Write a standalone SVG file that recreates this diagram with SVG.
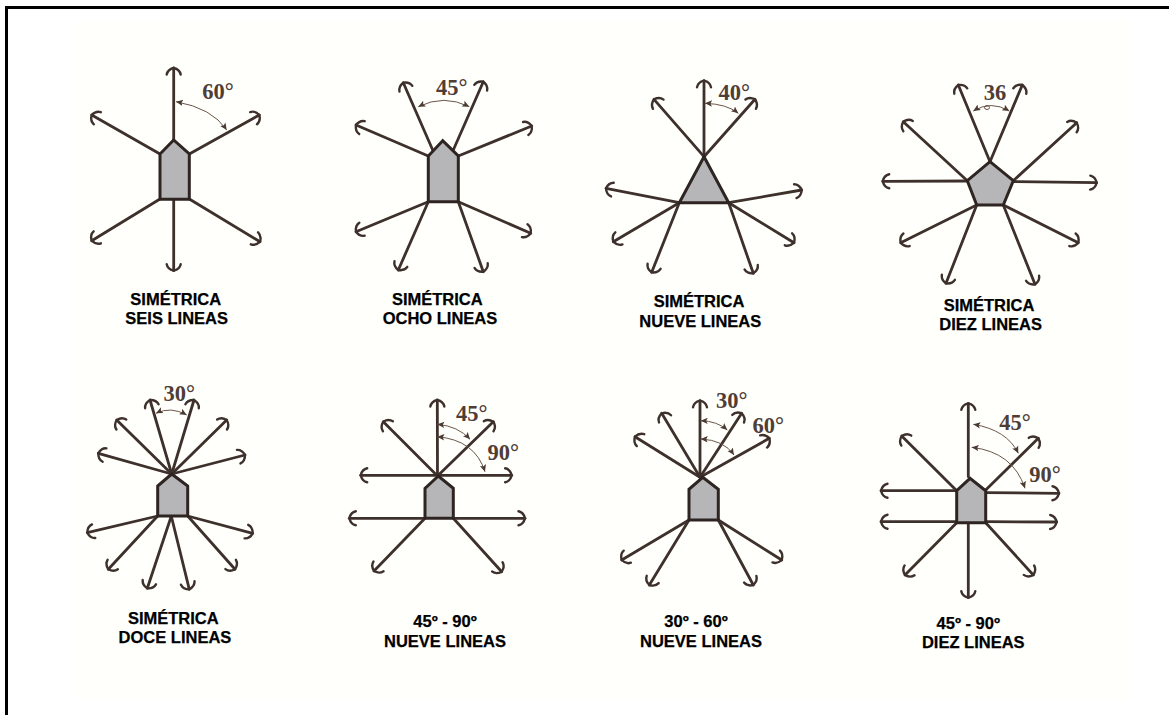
<svg xmlns="http://www.w3.org/2000/svg" width="1169" height="715" viewBox="0 0 1169 715">
<style>
.a{stroke:#3e302b;stroke-width:2.8;fill:none;marker-end:url(#h);stroke-linecap:round}
.s{fill:#b6b6b8;stroke:#2e2522;stroke-width:3;stroke-linejoin:miter}
.c{stroke:#6b5548;stroke-width:1;fill:none;marker-start:url(#t);marker-end:url(#t)}
.d{font-family:"Liberation Serif","Times New Roman",serif;font-weight:bold;font-size:22.5px;fill:#4f3d36;text-anchor:middle}
.l{font-family:"Liberation Sans",Arial,sans-serif;font-weight:bold;font-size:16.5px;fill:#000;stroke:#000;stroke-width:.25;text-anchor:middle}
</style>
<defs>
<marker id="h" markerUnits="userSpaceOnUse" markerWidth="24" markerHeight="24" refX="12" refY="12" orient="auto" overflow="visible">
<path d="M5.5,5 Q10.5,6 12,12 Q10.5,18 5.5,19" fill="none" stroke="#3e302b" stroke-width="2.4" stroke-linecap="round"/>
</marker>
<marker id="t" markerUnits="userSpaceOnUse" markerWidth="10" markerHeight="10" refX="7" refY="4" orient="auto-start-reverse">
<path d="M0,0.8 L7,4 L0,7.2 L1.5,4Z" fill="#4a3a32"/>
</marker>
</defs>
<rect x="0" y="0" width="1169" height="715" fill="#fff"/>
<rect x="75" y="20" width="1055" height="680" fill="#fffffc"/>
<path d="M6.5,715 V7.5 H1169" fill="none" stroke="#000" stroke-width="3"/>

<g id="connectors">
<!-- 1 -->
<line class="a" x1="173.7" y1="140" x2="173.7" y2="68"/>
<line class="a" x1="160" y1="154" x2="91.7" y2="115"/>
<line class="a" x1="189.3" y1="154" x2="259.3" y2="115"/>
<line class="a" x1="160" y1="199" x2="91.7" y2="240.7"/>
<line class="a" x1="189.3" y1="199" x2="260" y2="241.7"/>
<line class="a" x1="173.7" y1="199" x2="173.7" y2="270.7"/>
<path class="c" d="M176,101.7 Q212,108 226.7,130"/>
<!-- 2 -->
<line class="a" x1="432.7" y1="150" x2="403.3" y2="82.7"/>
<line class="a" x1="453.3" y1="150" x2="483.3" y2="81.7"/>
<line class="a" x1="428.3" y1="156" x2="356" y2="125"/>
<line class="a" x1="458.3" y1="156" x2="531.7" y2="126"/>
<line class="a" x1="428.3" y1="201.7" x2="356" y2="231.7"/>
<line class="a" x1="458.3" y1="201.7" x2="530.7" y2="233.3"/>
<line class="a" x1="428.3" y1="201.7" x2="398.3" y2="270"/>
<line class="a" x1="458.3" y1="201.7" x2="483.3" y2="271.7"/>
<path class="c" d="M418.3,106.7 Q444,94 469.3,106.7"/>
<!-- 3 -->
<line class="a" x1="704" y1="156.7" x2="704" y2="80.7"/>
<line class="a" x1="704" y1="156.7" x2="654" y2="99.3"/>
<line class="a" x1="704" y1="156.7" x2="755" y2="99.3"/>
<line class="a" x1="679.3" y1="202.7" x2="606" y2="188.3"/>
<line class="a" x1="728.7" y1="202.7" x2="801.7" y2="190"/>
<line class="a" x1="679.3" y1="202.7" x2="613.3" y2="241.7"/>
<line class="a" x1="728.7" y1="202.7" x2="794" y2="242.7"/>
<line class="a" x1="679.3" y1="202.7" x2="651.7" y2="272.3"/>
<line class="a" x1="728.7" y1="202.7" x2="753.3" y2="273.3"/>
<path class="c" d="M705,103.3 Q727,104 738.3,113.3"/>
<!-- 4 -->
<line class="a" x1="990" y1="161.7" x2="958.3" y2="85"/>
<line class="a" x1="990" y1="161.7" x2="1022.3" y2="85"/>
<line class="a" x1="967.3" y1="180.7" x2="903.3" y2="121.7"/>
<line class="a" x1="1013.3" y1="180.7" x2="1076.7" y2="122.7"/>
<line class="a" x1="967.3" y1="181" x2="882.7" y2="181.3"/>
<line class="a" x1="1013.3" y1="181.5" x2="1096.7" y2="182.7"/>
<line class="a" x1="976.7" y1="205" x2="900.7" y2="242.7"/>
<line class="a" x1="1003.3" y1="205" x2="1078.3" y2="242.7"/>
<line class="a" x1="976.7" y1="205" x2="946" y2="283.3"/>
<line class="a" x1="1003.3" y1="205" x2="1035" y2="284.3"/>
<path class="c" d="M973.3,111 Q991,100 1009.3,111"/>
<ellipse cx="987" cy="107.5" rx="2.5" ry="2" fill="none" stroke="#6b5548" stroke-width="1"/>
<!-- 5 -->
<line class="a" x1="171.7" y1="474" x2="150" y2="400"/>
<line class="a" x1="171.7" y1="474" x2="194" y2="400"/>
<line class="a" x1="171.7" y1="474" x2="116.7" y2="420"/>
<line class="a" x1="171.7" y1="474" x2="226.7" y2="420"/>
<line class="a" x1="171.7" y1="474" x2="98.3" y2="453.3"/>
<line class="a" x1="171.7" y1="474" x2="245" y2="455"/>
<line class="a" x1="157.7" y1="516" x2="87.3" y2="532.7"/>
<line class="a" x1="187.7" y1="516" x2="252.7" y2="533.3"/>
<line class="a" x1="157.7" y1="516" x2="108.3" y2="569.3"/>
<line class="a" x1="187.7" y1="516" x2="235" y2="569.3"/>
<line class="a" x1="171" y1="517" x2="147.3" y2="588.3"/>
<line class="a" x1="171.5" y1="517" x2="189.3" y2="589.3"/>
<path class="c" d="M156,413.3 Q171,406 186.7,415"/>
<!-- 6 -->
<line class="a" x1="437.5" y1="476" x2="437.3" y2="400"/>
<line class="a" x1="437.5" y1="476" x2="383.3" y2="421.7"/>
<line class="a" x1="437.5" y1="476" x2="493.3" y2="421.7"/>
<line class="a" x1="437.5" y1="475.3" x2="360.7" y2="475.3"/>
<line class="a" x1="437.5" y1="475.3" x2="511.7" y2="475.3"/>
<line class="a" x1="425" y1="518.3" x2="349.3" y2="518.3"/>
<line class="a" x1="453.3" y1="518.3" x2="525" y2="518.3"/>
<line class="a" x1="425" y1="518.3" x2="374" y2="571"/>
<line class="a" x1="453.3" y1="518.3" x2="501.7" y2="571.7"/>
<path class="c" d="M437.3,424.3 Q458,426 470,439.3"/>
<path class="c" d="M437.3,436.7 Q475,440 485,471.7"/>
<!-- 7 -->
<line class="a" x1="700" y1="477.3" x2="700" y2="400.7"/>
<line class="a" x1="700" y1="477.3" x2="661.7" y2="413.3"/>
<line class="a" x1="700" y1="477.3" x2="635" y2="436.7"/>
<line class="a" x1="700" y1="477.3" x2="741.7" y2="413.3"/>
<line class="a" x1="700" y1="477.3" x2="769.3" y2="438.3"/>
<line class="a" x1="689" y1="520" x2="621.7" y2="560"/>
<line class="a" x1="689" y1="520" x2="649.3" y2="585"/>
<line class="a" x1="718.3" y1="520" x2="781.7" y2="560"/>
<line class="a" x1="718.3" y1="520" x2="753.3" y2="585"/>
<path class="c" d="M700.7,420.7 Q717,421 727.3,430"/>
<path class="c" d="M700.7,439 Q724,440 734,455"/>
<!-- 8 -->
<line class="a" x1="968.3" y1="476.7" x2="968.3" y2="403.3"/>
<line class="a" x1="956" y1="490" x2="901.7" y2="436"/>
<line class="a" x1="985.7" y1="490" x2="1038.3" y2="438.3"/>
<line class="a" x1="956.7" y1="490.7" x2="881" y2="490.7"/>
<line class="a" x1="985.7" y1="492.7" x2="1059" y2="493.3"/>
<line class="a" x1="956.7" y1="521.7" x2="881" y2="521.7"/>
<line class="a" x1="985.7" y1="521.7" x2="1056.7" y2="522"/>
<line class="a" x1="956.7" y1="522.7" x2="905" y2="575"/>
<line class="a" x1="985.7" y1="522.7" x2="1033.3" y2="575"/>
<line class="a" x1="968.3" y1="522.7" x2="968.3" y2="597.7"/>
<path class="c" d="M973.3,424.3 Q1007,430 1018.3,453.3"/>
<path class="c" d="M971.7,447.3 Q1013,452 1025,488.3"/>
</g>

<g id="node1"><polygon class="s" points="173.7,140 160,154 160,199.3 189.3,199.3 189.3,154"/><text class="d" x="218" y="98.5">60°</text><text class="l" x="175.7" y="305">SIMÉTRICA</text><text class="l" x="176.7" y="324">SEIS LINEAS</text></g>
<g id="node2"><polygon class="s" points="442.7,140.7 428.3,156 428.3,201.7 458.3,201.7 458.3,156"/><text class="d" x="451.7" y="94.5">45°</text><text class="l" x="437.3" y="305">SIMÉTRICA</text><text class="l" x="440" y="324">OCHO LINEAS</text></g>
<g id="node3"><polygon class="s" points="704,156.7 679.3,202.7 728.7,202.7"/><text class="d" x="734.3" y="99.5">40°</text><text class="l" x="699" y="307.3">SIMÉTRICA</text><text class="l" x="700.3" y="326.7">NUEVE LINEAS</text></g>
<g id="node4"><polygon class="s" points="990,161.7 1013.3,180.7 1003.3,205 976.7,205 967.3,180.7"/><text class="d" x="995" y="99.5">36</text><text class="l" x="989" y="310.7">SIMÉTRICA</text><text class="l" x="990.7" y="330">DIEZ LINEAS</text></g>
<g id="node5"><polygon class="s" points="171.7,474 157.7,486 157.7,516 187.7,516 187.7,486"/><text class="d" x="179.3" y="401">30°</text><text class="l" x="173.3" y="624">SIMÉTRICA</text><text class="l" x="175" y="643.3">DOCE LINEAS</text></g>
<g id="node6"><polygon class="s" points="438.3,476 425,488.3 425,518.3 453.3,518.3 453.3,488.3"/><text class="d" x="471.7" y="421">45°</text><text class="d" x="503.3" y="459.5">90°</text><text class="l" x="445" y="627.3">45º - 90º</text><text class="l" x="445" y="646.7">NUEVE LINEAS</text></g>
<g id="node7"><polygon class="s" points="702.7,477.3 689,489.3 689,520 718.3,520 718.3,489.3"/><text class="d" x="731.7" y="407.5">30°</text><text class="d" x="768.3" y="432.5">60°</text><text class="l" x="696" y="627.3">30º - 60º</text><text class="l" x="701" y="646.7">NUEVE LINEAS</text></g>
<g id="node8"><polygon class="s" points="970,478.3 956.7,490.7 956.7,522.7 985.7,522.7 985.7,490.7"/><text class="d" x="1015" y="430">45°</text><text class="d" x="1045" y="482">90°</text><text class="l" x="968.3" y="629.3">45º - 90º</text><text class="l" x="973.3" y="648.3">DIEZ LINEAS</text></g>
</svg>
